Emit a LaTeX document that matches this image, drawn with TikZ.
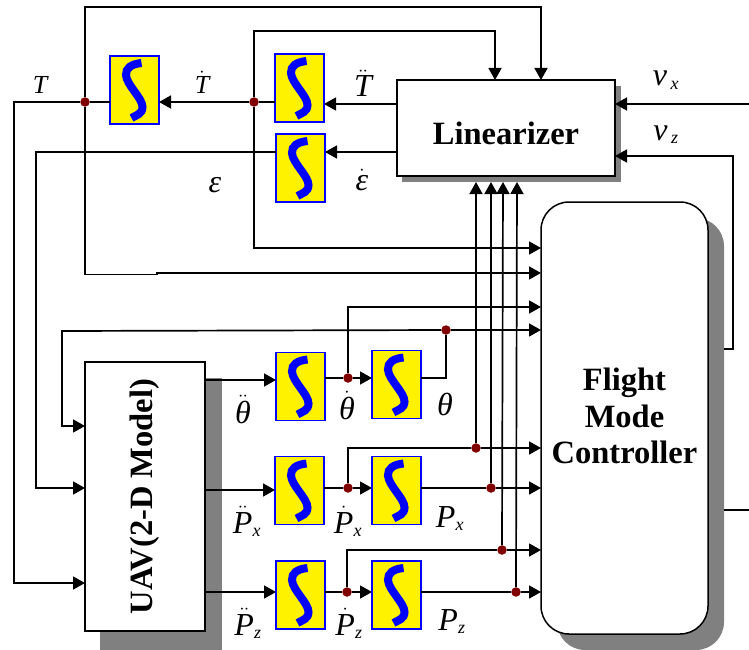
\documentclass[tikz,border=0pt]{standalone}
\usepackage{amsmath}
\usepackage{fontspec}
\setmainfont{Liberation Serif}
\usetikzlibrary{arrows.meta}
\definecolor{junccol}{HTML}{800000}
\definecolor{shadecol}{HTML}{808080}
\newcommand{\vsym}[2][32]{\text{\fontsize{#1}{#1}\selectfont\itshape #2}}
\newcommand{\vsub}[1]{\text{\fontsize{18}{18}\selectfont\itshape #1}}
\tikzset{
  sig/.style      = {-{Triangle[length=12pt,width=13pt]}, black, line width=1.7pt},
  wire/.style     = {black, line width=1.7pt},
  intbox/.style   = {draw=blue, fill=yellow, line width=1.2pt, minimum width=49pt,
                     minimum height=68pt, inner sep=0pt, outer sep=0pt,
                     path picture={\draw[blue, line width=8pt]
                       ([shift={(7,-27)}]path picture bounding box.center)
                       .. controls ([shift={(-3,-26)}]path picture bounding box.center)
                       and ([shift={(-9,-22)}]path picture bounding box.center)
                       .. ([shift={(-8.5,-15)}]path picture bounding box.center)
                       .. controls ([shift={(-8,-5)}]path picture bounding box.center)
                       and ([shift={(8,8)}]path picture bounding box.center)
                       .. ([shift={(8,17)}]path picture bounding box.center)
                       .. controls ([shift={(8,24)}]path picture bounding box.center)
                       and ([shift={(2,25)}]path picture bounding box.center)
                       .. ([shift={(-3,28)}]path picture bounding box.center);}},
  bigbox/.style   = {draw=black, fill=white, line width=1.5pt, inner sep=0pt, outer sep=0pt,
                     font=\fontsize{32.5}{36.5}\selectfont\bfseries, align=center},
  junc/.style     = {circle, fill=junccol, inner sep=0pt, minimum size=9.5pt},
  lab/.style      = {inner sep=0pt, anchor=base, font=\fontsize{32}{32}\selectfont}
}
\begin{document}
\begin{tikzpicture}[x=1pt,y=-1pt]
  \useasboundingbox (0,0) rectangle (749,650);
  % shadows
  \fill[shadecol] (402,86) rectangle (621,182);
  \fill[shadecol, rounded corners=28pt] (557,218) rectangle (724,650);
  \fill[shadecol] (100,378) rectangle (222,650);
  % blocks
  \node[bigbox, minimum width=218pt, minimum height=96pt, text height=32pt, text depth=0pt]
        (lin) at (506,128) {Linearizer};
  \node[bigbox, minimum width=167pt, minimum height=432pt, rounded corners=28pt]
        (fmc) at (624.5,418) {\raisebox{0pt}[\dimexpr\height+4pt][\depth]{\begin{tabular}{@{}c@{}}Flight\\Mode\\Controller\end{tabular}}};
  \node[bigbox, minimum width=120pt, minimum height=269pt]
        (uav) at (145,496.5) {\rotatebox{90}{UAV(2-D Model)}};
  % integrators
  \node[intbox] (intT)   at (134.5,90)  {};
  \node[intbox] (intTd)  at (299.5,88)  {};
  \node[intbox] (intE)   at (300.5,168) {};
  \node[intbox] (intTh)  at (300.5,386.5) {};
  \node[intbox] (intThd) at (396.5,384.5) {};
  \node[intbox] (intX)   at (299.5,490.5) {};
  \node[intbox] (intXd)  at (396.5,490.5) {};
  \node[intbox] (intZ)   at (300.5,595) {};
  \node[intbox] (intZd)  at (396.5,595) {};
  % branch points
  \node[junc] (jT)   at (85,102)  {};
  \node[junc] (jTd)  at (254,102) {};
  \node[junc] (jTh)  at (446,330) {};
  \node[junc] (jThd) at (348,378) {};
  \node[junc] (jXd)  at (348,488) {};
  \node[junc] (jZd)  at (347,592) {};
  \node[junc] (jXa)  at (476,448) {};
  \node[junc] (jX)   at (491,488) {};
  \node[junc] (jZa)  at (502,550) {};
  \node[junc] (jZ)   at (516,592) {};
  % free ends
  \coordinate (vxin) at (749,104);
  \coordinate (zin)  at (724,349);
  \coordinate (zsh)  at (724,510);
  \coordinate (zout) at (749,510);
  \coordinate (thl)  at (62,331);
  % linearizer side
  \draw[sig]  (jT.north) |- (541,7) -- (541,80);
  \draw[sig]  (jTd.north) |- (495,31) -- (495,80);
  \draw[sig]  (vxin) -- (615,104);
  \draw[sig]  (zin) -- (733,349) -- (733,156) -- (615,156);
  \draw[wire] (zsh) -- (zout);
  \draw[sig]  (lin.west |- 0,104) -- (intTd.east |- 0,104);
  \draw[sig]  (lin.west |- 0,152) -- (intE.east |- 0,152);
  % integrator chain on top
  \draw[wire] (intTd.west |- jTd) -- (jTd);
  \draw[sig]  (jTd) -- (intT.east |- jTd);
  \draw[wire] (intT.west |- jT) -- (jT);
  \draw[sig]  (jT) -- (14,102) -- (14,583) -- (uav.west |- 0,583);
  \draw[sig]  (intE.west |- 0,152) -- (36,152) -- (36,488) -- (uav.west |- 0,488);
  \draw[sig]  (jT.south) |- (157,274.5) -- (157,273) -- (fmc.west |- 0,273);
  \draw[sig]  (jTd.south) |- (fmc.west |- 0,248);
  % theta row
  \draw[sig]  (uav.east |- 0,380) -- (intTh.west |- 0,380);
  \draw[wire] (intTh.east |- jThd) -- (jThd);
  \draw[sig]  (jThd) -- (intThd.west |- jThd);
  \draw[sig]  (jThd.north) |- (fmc.west |- 0,307);
  \draw[wire] (intThd.east |- jThd) -| (jTh.south);
  \draw[sig]  (jTh) -- (fmc.west |- jTh);
  \draw[sig]  (jTh) -- (thl) -- (62,426) -- (uav.west |- 0,426);
  % Px row
  \draw[sig]  (uav.east |- 0,490) -- (intX.west |- 0,490);
  \draw[wire] (intX.east |- jXd) -- (jXd);
  \draw[sig]  (jXd) -- (intXd.west |- jXd);
  \draw[wire] (jXd.north) |- (jXa);
  \draw[sig]  (jXa) -- (fmc.west |- jXa);
  \draw[wire] (intXd.east |- jX) -- (jX);
  \draw[sig]  (jX) -- (fmc.west |- jX);
  % Pz row
  \draw[sig]  (uav.east |- 0,592) -- (intZ.west |- 0,592);
  \draw[wire] (intZ.east |- jZd) -- (jZd);
  \draw[sig]  (jZd) -- (intZd.west |- jZd);
  \draw[wire] (jZd.north) |- (jZa);
  \draw[sig]  (jZa) -- (fmc.west |- jZa);
  \draw[wire] (intZd.east |- jZ) -- (jZ);
  \draw[sig]  (jZ) -- (fmc.west |- jZ);
  % feedback to linearizer
  \draw[sig]  (jXa.north) -- (476,182);
  \draw[sig]  (jX.north)  -- (491,182);
  \draw[sig]  (jZa.north) -- (503,182);
  \draw[sig]  (jZ.north)  -- (517,182);
  % labels
  \node[lab] (lT)   at (40,94)   {$\vsym[26]{T}$};
  \node[lab] (lTd)  at (202,94)  {$\dot{\vsym[26]{T}}$};
  \node[lab] (lTdd) at (363,97)  {$\ddot{\vsym{T}}$};
  \node[lab] (lE)   at (215,192) {$\vsym{ε}$};
  \node[lab] (lEd)  at (362,190) {$\dot{\vsym{ε}}$};
  \node[lab] (lVx)  at (666,86)  {$\vsym{ν}_{\,\vsub{x}}$};
  \node[lab] (lVz)  at (666,140) {$\vsym{ν}_{\,\vsub{z}}$};
  \node[lab] (lThdd) at (243,423) {$\ddot{\vsym{θ}}$};
  \node[lab] (lThd)  at (347,419) {$\dot{\vsym{θ}}$};
  \node[lab] (lTh)   at (445,415) {$\vsym{θ}$};
  \node[lab] (lXdd)  at (247,533) {$\ddot{\vsym{P}}_{\vsub{x}}$};
  \node[lab] (lXd)   at (348,533) {$\dot{\vsym{P}}_{\vsub{x}}$};
  \node[lab] (lX)    at (450,527) {$\vsym{P}_{\vsub{x}}$};
  \node[lab] (lZdd)  at (248,635) {$\ddot{\vsym{P}}_{\vsub{z}}$};
  \node[lab] (lZd)   at (349,635) {$\dot{\vsym{P}}_{\vsub{z}}$};
  \node[lab] (lZ)    at (452,630) {$\vsym{P}_{\vsub{z}}$};
\end{tikzpicture}
\end{document}
